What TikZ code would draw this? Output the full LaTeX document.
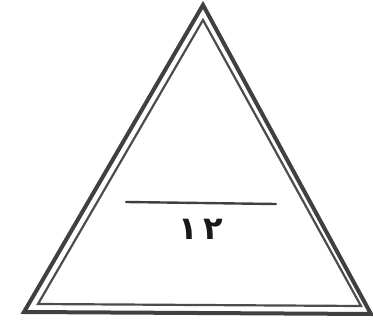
\documentclass[tikz,border=0pt]{standalone}
\usepackage{fontspec}
\newfontfamily\arabicfont[Script=Arabic]{DejaVu Sans}
\TeXXeTstate=1
\tikzset{
  outerline/.style={draw=black!75, line width=4pt, line join=miter},
  innerline/.style={draw=black!70, line width=2.2pt, line join=miter},
  barline/.style={draw=black!75, line width=2.4pt, line cap=round},
  numlabel/.style={font=\arabicfont\bfseries\fontsize{32}{36}\selectfont, text=black!90, inner sep=0pt}
}
\begin{document}
\begin{tikzpicture}[x=1pt,y=-1pt]
\useasboundingbox (0,0) rectangle (373,332);
\coordinate (oa) at (203,5);
\coordinate (ol) at (24,312);
\coordinate (or) at (371,314);
\coordinate (ia) at (203,20);
\coordinate (il) at (38,304);
\coordinate (ir) at (361,306);
\draw[outerline] (oa) -- (ol) -- (or) -- cycle;
\draw[innerline] (ia) -- (il) -- (ir) -- cycle;
\coordinate (bl) at (126,202);
\coordinate (br) at (276,204);
\draw[barline] (bl) -- (br);
\node[numlabel] (num) at (201,229) {\beginR\beginL ١\kern6pt٢\endL\endR};
\end{tikzpicture}
\end{document}
